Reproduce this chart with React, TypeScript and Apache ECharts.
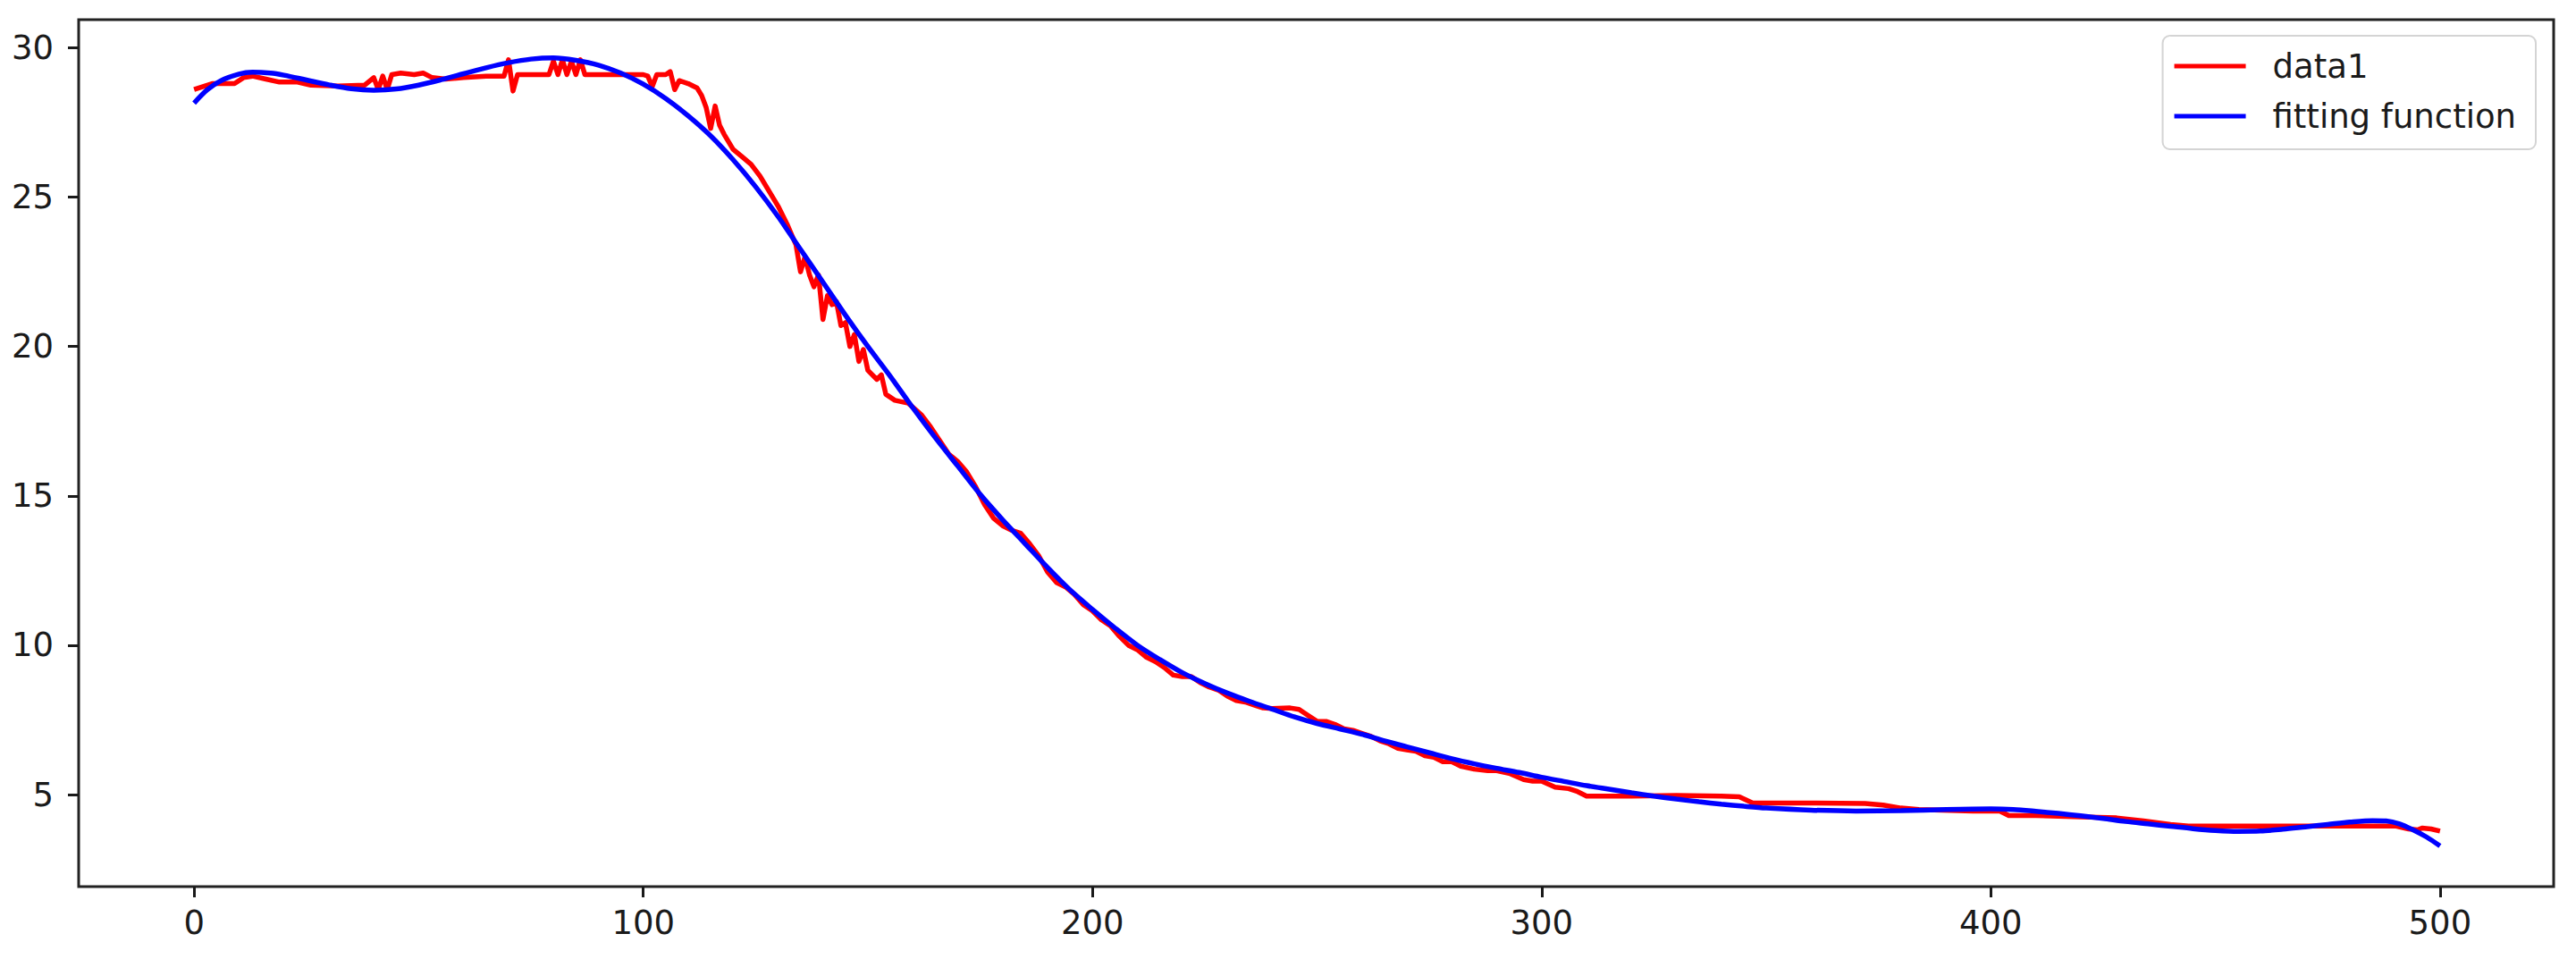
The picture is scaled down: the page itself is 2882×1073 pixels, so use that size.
import React, { useEffect, useRef } from "react";
import * as echarts from "echarts";

const dataX = [0, 2, 4, 9, 11, 13, 16, 19, 23, 26, 32, 38, 40, 41, 42, 43, 44, 46, 49, 51, 53, 56, 60, 65, 69, 70, 71, 72, 79, 80, 81, 82, 83, 84, 85, 86, 87, 96, 100, 101, 102, 103, 105, 106, 107, 108, 110, 112, 113, 114, 115, 116, 117, 118, 120, 122, 124, 126, 128, 130, 132, 134, 135, 136, 137, 138, 139, 140, 141, 142, 143, 144, 145, 146, 147, 148, 149, 150, 152, 153, 154, 156, 159, 162, 164, 166, 168, 170, 172, 174, 176, 178, 180, 182, 184, 186, 188, 190, 192, 194, 196, 198, 200, 202, 204, 206, 208, 210, 212, 214, 216, 218, 220, 222, 224, 226, 228, 230, 232, 234, 236, 238, 240, 244, 246, 248, 250, 252, 254, 256, 258, 260, 262, 264, 266, 268, 270, 272, 274, 276, 278, 280, 282, 285, 288, 290, 293, 296, 298, 300, 303, 306, 308, 310, 320, 330, 340, 344, 347, 360, 372, 376, 380, 384, 396, 402, 404, 410, 420, 428, 434, 440, 444, 470, 490, 493, 495, 496, 498, 500];
const dataY = [28.6, 28.7, 28.8, 28.8, 29.0, 29.05, 28.95, 28.85, 28.85, 28.75, 28.72, 28.75, 29.0, 28.6, 29.05, 28.6, 29.1, 29.15, 29.1, 29.15, 29.0, 28.95, 29.0, 29.05, 29.05, 29.6, 28.55, 29.1, 29.1, 29.55, 29.1, 29.6, 29.1, 29.55, 29.1, 29.6, 29.1, 29.1, 29.1, 29.05, 28.7, 29.1, 29.1, 29.2, 28.6, 28.9, 28.8, 28.65, 28.4, 28.0, 27.3, 28.05, 27.4, 27.1, 26.6, 26.35, 26.1, 25.7, 25.2, 24.7, 24.1, 23.4, 22.5, 23.0, 22.4, 22.0, 22.4, 20.9, 21.7, 21.4, 21.5, 20.7, 20.8, 20.0, 20.4, 19.5, 19.9, 19.2, 18.9, 19.05, 18.4, 18.2, 18.1, 17.7, 17.3, 16.85, 16.4, 16.15, 15.8, 15.3, 14.7, 14.25, 14.0, 13.85, 13.75, 13.4, 13.0, 12.45, 12.1, 11.95, 11.7, 11.35, 11.15, 10.85, 10.65, 10.3, 10.0, 9.85, 9.6, 9.45, 9.25, 9.0, 8.95, 8.95, 8.75, 8.6, 8.5, 8.3, 8.15, 8.1, 8.0, 7.9, 7.88, 7.9, 7.85, 7.65, 7.45, 7.45, 7.35, 7.2, 7.15, 7.05, 6.95, 6.8, 6.7, 6.55, 6.5, 6.45, 6.3, 6.25, 6.1, 6.1, 5.95, 5.85, 5.8, 5.8, 5.7, 5.5, 5.45, 5.45, 5.25, 5.2, 5.1, 4.95, 4.95, 4.97, 4.95, 4.93, 4.72, 4.72, 4.7, 4.65, 4.55, 4.5, 4.45, 4.45, 4.3, 4.3, 4.25, 4.22, 4.12, 4.0, 3.95, 3.95, 3.95, 3.85, 3.82, 3.88, 3.85, 3.78];

const fitX = [0, 3, 6, 10, 13, 17, 20, 25, 30, 35, 40, 45, 50, 55, 60, 65, 70, 75, 80, 85, 90, 95, 100, 105, 110, 115, 120, 125, 130, 135, 140, 145, 150, 155, 160, 165, 170, 175, 180, 185, 190, 195, 200, 205, 210, 215, 220, 225, 230, 235, 240, 245, 250, 255, 260, 265, 270, 275, 280, 285, 290, 295, 300, 305, 310, 315, 320, 325, 330, 335, 340, 345, 350, 360, 370, 380, 390, 400, 405, 410, 415, 420, 425, 430, 435, 440, 445, 450, 455, 460, 465, 470, 475, 480, 485, 488, 491, 494, 497, 500];
const fitY = [28.15, 28.6, 28.9, 29.12, 29.18, 29.15, 29.08, 28.92, 28.76, 28.63, 28.58, 28.62, 28.75, 28.93, 29.13, 29.33, 29.5, 29.62, 29.66, 29.58, 29.42, 29.15, 28.78, 28.3, 27.72, 27.05, 26.25, 25.35, 24.35, 23.25, 22.15, 21.05, 20.0, 19.0, 17.95, 16.95, 16.0, 15.05, 14.2, 13.4, 12.6, 11.85, 11.2, 10.58, 10.0, 9.52, 9.08, 8.72, 8.4, 8.12, 7.86, 7.6, 7.38, 7.2, 7.02, 6.8, 6.6, 6.4, 6.2, 6.03, 5.88, 5.74, 5.58, 5.44, 5.3, 5.18, 5.06, 4.95, 4.85, 4.76, 4.68, 4.61, 4.55, 4.48, 4.45, 4.46, 4.5, 4.52, 4.5, 4.44, 4.37, 4.29, 4.2, 4.1, 4.02, 3.94, 3.86, 3.8, 3.77, 3.78, 3.84, 3.92, 4.0, 4.08, 4.13, 4.12, 4.02, 3.82, 3.58, 3.28];

const xTicks = [0, 100, 200, 300, 400, 500];
const yTicks = [5, 10, 15, 20, 25, 30];
const seriesNames = ["data1", "fitting function"];

const FONT = "DejaVu Sans";
const INK = "#1a1a1a";

export default function App() {
  const ref = useRef<HTMLDivElement>(null);
  useEffect(() => {
    if (!ref.current) return;
    const chart = echarts.init(ref.current, null, { renderer: "svg" });
    const red = dataX.map((x, i) => [x, dataY[i]]);
    const blue = fitX.map((x, i) => [x, fitY[i]]);
    const tickStyle = { show: true, length: 12, lineStyle: { color: INK, width: 3 } };
    chart.setOption({
      animation: false,
      backgroundColor: "#ffffff",
      grid: {
        left: 88,
        right: 25,
        top: 22,
        bottom: 81,
        show: true,
        borderColor: "#222222",
        borderWidth: 3,
        backgroundColor: "#ffffff",
      },
      legend: {
        orient: "vertical",
        right: 45,
        top: 40,
        icon: "rect",
        itemWidth: 80,
        itemHeight: 5,
        itemGap: 12,
        padding: [12, 22, 15, 13],
        backgroundColor: "#ffffff",
        borderColor: "#d4d4d4",
        borderWidth: 2,
        borderRadius: 8,
        textStyle: {
          fontFamily: FONT,
          fontSize: 37,
          color: INK,
          lineHeight: 44,
          padding: [0, 0, 0, 25],
        },
        data: seriesNames,
      },
      xAxis: {
        type: "value",
        min: -25.7,
        max: 525.3,
        splitLine: { show: false },
        axisLine: { show: false, onZero: false },
        axisTick: { ...tickStyle, customValues: xTicks },
        axisLabel: {
          customValues: xTicks,
          fontFamily: FONT,
          fontSize: 37,
          color: INK,
          margin: 22,
        },
      },
      yAxis: {
        type: "value",
        min: 1.92,
        max: 30.94,
        splitLine: { show: false },
        axisLine: { show: false, onZero: false },
        axisTick: { ...tickStyle, customValues: yTicks },
        axisLabel: {
          customValues: yTicks,
          fontFamily: FONT,
          fontSize: 37,
          color: INK,
          margin: 28,
        },
      },
      series: [
        {
          name: seriesNames[0],
          type: "line",
          data: red,
          showSymbol: false,
          symbol: "none",
          lineStyle: { color: "#ff0000", width: 5.5, join: "round" },
          itemStyle: { color: "#ff0000" },
        },
        {
          name: seriesNames[1],
          type: "line",
          data: blue,
          smooth: 0.3,
          showSymbol: false,
          symbol: "none",
          lineStyle: { color: "#0000ff", width: 5.5 },
          itemStyle: { color: "#0000ff" },
        },
      ],
    });
    return () => chart.dispose();
  }, []);
  return (
    <div
      ref={ref}
      style={{ position: "fixed", left: 0, top: 0, width: 2882, height: 1073, background: "#fff" }}
    />
  );
}
